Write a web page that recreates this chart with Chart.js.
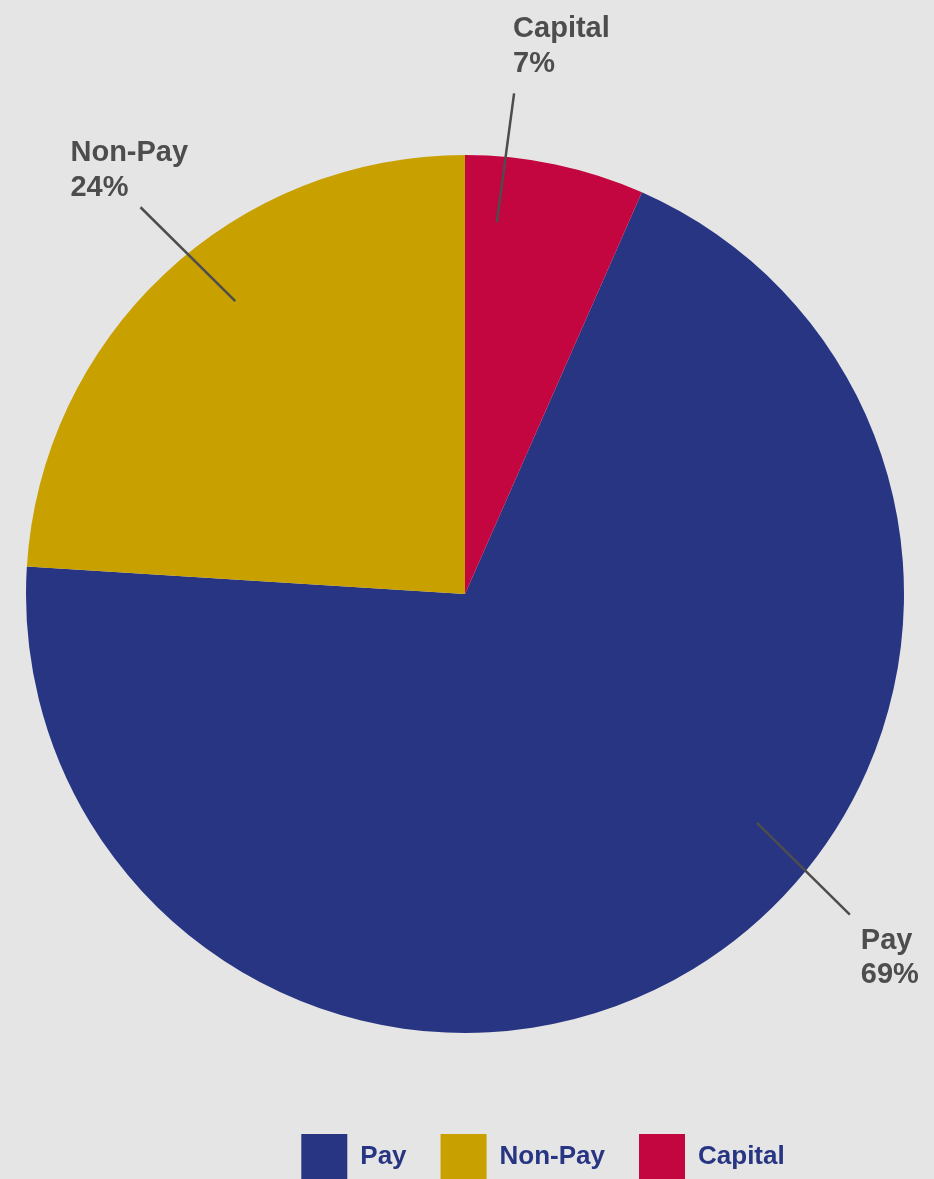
<!DOCTYPE html>
<html>
<head>
<meta charset="utf-8">
<script src="https://cdn.jsdelivr.net/npm/chart.js@4.4.1/dist/chart.umd.min.js"></script>
<style>
  html, body { margin: 0; padding: 0; background: #e5e5e5; }
  #wrap { position: relative; width: 934px; height: 1179px; }
</style>
</head>
<body>
<div id="wrap"><canvas id="budgetChart"></canvas></div>
<script>
// Budget split
const categories = ["Pay", "Non-Pay", "Capital"];
const shares = [69.4, 24.0, 6.6];
const sliceColors = ["#283583", "#c8a000", "#c30640"];

// callout placement: polar points (deg clockwise from top, fraction of radius)
const callouts = [
  { a1: 128.1, r1: 0.845, a2: 129.8, r2: 1.141, tx: 11, ty: 34 },
  { a1: 321.9, r1: 0.848, a2: 320.0, r2: 1.150, tx: -70, ty: -46 },
  { a1: 4.9, r1: 0.850, a2: 5.6, r2: 1.146, tx: -1, ty: -56 }
];

const total = shares.reduce((s, v) => s + v, 0);
const startAngle = shares[2] / total * 360;

const calloutPlugin = {
  id: 'callouts',
  afterDatasetsDraw(chart) {
    const ctx = chart.ctx;
    const arcs = chart.getDatasetMeta(0).data;
    ctx.save();
    arcs.forEach((arc, i) => {
      const c = callouts[i];
      const r = arc.outerRadius;
      const p = (deg, f) => {
        const t = (deg - 90) * Math.PI / 180;
        return { x: arc.x + Math.cos(t) * r * f, y: arc.y + Math.sin(t) * r * f };
      };
      const p1 = p(c.a1, c.r1), p2 = p(c.a2, c.r2);
      ctx.strokeStyle = "#4d4d4d";
      ctx.lineWidth = 2.5;
      ctx.beginPath();
      ctx.moveTo(p1.x, p1.y);
      ctx.lineTo(p2.x, p2.y);
      ctx.stroke();

      ctx.fillStyle = "#4d4d4d";
      ctx.font = "bold 29px 'Liberation Sans', Arial, sans-serif";
      ctx.textAlign = "left";
      ctx.textBaseline = "alphabetic";
      ctx.fillText(categories[i], p2.x + c.tx, p2.y + c.ty);
      ctx.fillText(Math.round(shares[i] / total * 100) + "%", p2.x + c.tx, p2.y + c.ty + 34.5);
    });
    ctx.restore();
  }
};

// nudge the legend right/down to sit where the original has it
const legendShift = {
  id: 'legendShift',
  afterLayout(chart) {
    const lg = chart.legend;
    lg.left += 78; lg.right += 78;
    lg.top += 11; lg.bottom += 11;
  }
};

new Chart(document.getElementById("budgetChart"), {
  type: 'pie',
  data: {
    labels: categories,
    datasets: [{
      data: shares,
      backgroundColor: sliceColors,
      borderWidth: 0
    }]
  },
  options: {
    responsive: true,
    maintainAspectRatio: false,
    animation: false,
    rotation: startAngle,
    layout: {
      padding: { top: 99, left: 26, right: 30, bottom: 0 }
    },
    plugins: {
      legend: {
        display: true,
        position: 'bottom',
        labels: {
          boxWidth: 46,
          boxHeight: 46,
          padding: 34,
          color: "#283583",
          font: { family: "'Liberation Sans', Arial, sans-serif", size: 26, weight: 'bold' }
        }
      },
      tooltip: { enabled: false }
    }
  },
  plugins: [calloutPlugin, legendShift]
});
</script>
</body>
</html>
